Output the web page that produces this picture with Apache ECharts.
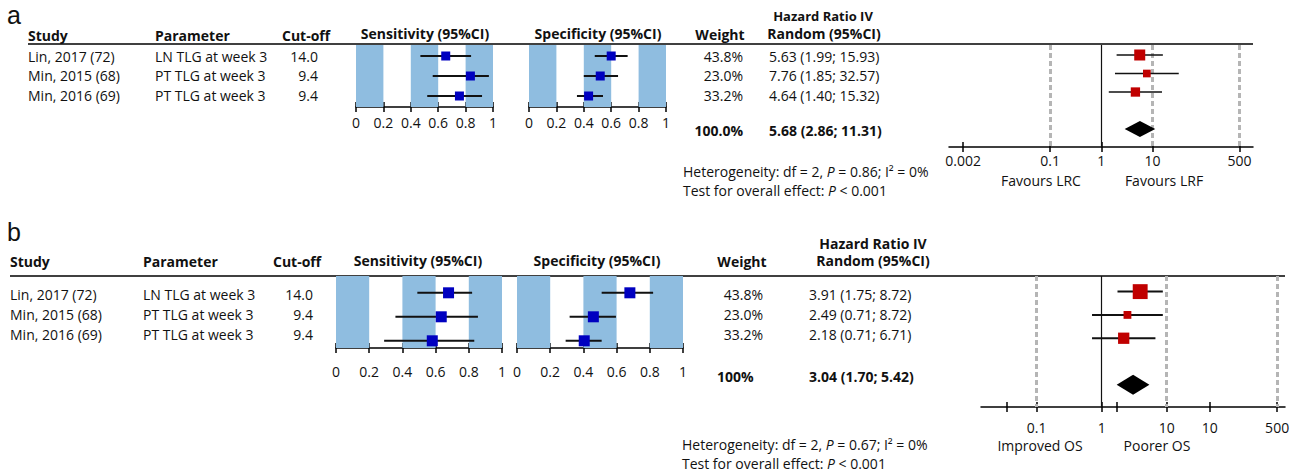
<!DOCTYPE html>
<html><head><meta charset="utf-8">
<script src="https://cdn.jsdelivr.net/npm/echarts@6/dist/echarts.min.js"></script>
<style>html,body{margin:0;padding:0;background:#fff}#c{width:1295px;height:473px}</style>
</head><body><div id="c"></div>
<script>
// ---------------- data ----------------
const studies = ['Lin, 2017 (72)', 'Min, 2015 (68)', 'Min, 2016 (69)'];
const parameters = ['LN TLG at week 3', 'PT TLG at week 3', 'PT TLG at week 3'];
const cutoffs = ['14.0', '9.4', '9.4'];
const weights = [43.8, 23.0, 33.2];
// panel a: [estimate, lower, upper]
const sensA = [[0.655, 0.47, 0.84], [0.835, 0.56, 0.97], [0.755, 0.52, 0.92]];
const specA = [[0.60, 0.48, 0.72], [0.52, 0.40, 0.65], [0.435, 0.35, 0.54]];
const hrA = [[5.63, 1.99, 15.93], [7.76, 1.85, 32.57], [4.64, 1.40, 15.32]];
const hrPooledA = [5.68, 2.86, 11.31];
// panel b
const sensB = [[0.678, 0.49, 0.82], [0.634, 0.358, 0.855], [0.58, 0.29, 0.833]];
const specB = [[0.68, 0.51, 0.82], [0.46, 0.317, 0.596], [0.405, 0.293, 0.51]];
const hrB = [[3.91, 1.75, 8.72], [2.49, 0.71, 8.72], [2.18, 0.71, 6.71]];
const hrPooledB = [3.04, 1.70, 5.42];
const weightTextA = ['43.8%', '23.0%', '33.2%'];
const weightTextB = ['43.8%', '23.0%', '33.2%'];
const totalWeightA = '100.0%';
const totalWeightB = '100%';
const hrTextA = ['5.63 (1.99; 15.93)', '7.76 (1.85; 32.57)', '4.64 (1.40; 15.32)'];
const hrTextB = ['3.91 (1.75; 8.72)', '2.49 (0.71; 8.72)', '2.18 (0.71; 6.71)'];
const pooledTextA = '5.68 (2.86; 11.31)';
const pooledTextB = '3.04 (1.70; 5.42)';
const hetPA = '0.86', hetPB = '0.67';
// axes
const bandRanges = [[0, 0.2], [0.4, 0.6], [0.8, 1]];
const hrTicksA = [0.002, 0.1, 1, 10, 500];
const hrTickLabelsA = ['0.002', '0.1', '1', '10', '500'];
const hrRefLinesA = [0.002, 0.1, 10, 500];
const hrTicksB = [0.035, 0.1, 1, 1.7, 10, 46, 500];
const hrLabelValuesB = [0.1, 1, 10, 46, 500];
const hrTickLabelsB = ['0.1', '1', '10', '10', '500'];
const hrRefLinesB = [0.1, 10, 500];
const favoursA = ['Favours LRC', 'Favours LRF'];
const favoursB = ['Improved OS', 'Poorer OS'];

// ---------------- styles ----------------
const FONT = 'Open Sans';
const FS = 14;
const BAND = '#8fbde0';
const BLUE = '#0000c0';
const RED = '#c00000';

function labelLookup(vals, labels) {
  return function (v) {
    for (let i = 0; i < vals.length; i++) {
      if (Math.abs(v - vals[i]) / vals[i] < 1e-6) return labels[i];
    }
    return '';
  };
}

function propAxes(grid, labelMargin) {
  return [
    { gridIndex: grid, type: 'value', min: 0, max: 1, interval: 0.2, position: 'bottom',
      axisLine: { lineStyle: { color: '#000', width: 1.5 } },
      axisTick: { length: 5, lineStyle: { color: '#000', width: 1.5 } },
      axisLabel: { margin: labelMargin, color: '#111', fontFamily: FONT, fontSize: FS,
        showMinLabel: true, showMaxLabel: true, formatter: v => String(+v.toFixed(1)) },
      splitLine: { show: false } },
    { gridIndex: grid, type: 'value', min: 0, max: 1, interval: 0.2, position: 'bottom',
      axisLine: { show: false },
      axisTick: { inside: true, length: 5, lineStyle: { color: '#000', width: 1.5 } },
      axisLabel: { show: false }, splitLine: { show: false } }
  ];
}
function hrAxes(grid, min, max, ticks, labelVals, labels, labelMargin) {
  return [
    { gridIndex: grid, type: 'log', logBase: 10, min: min, max: max, position: 'bottom',
      axisLine: { lineStyle: { color: '#000', width: 1.5 } },
      axisTick: { length: 5, customValues: ticks, lineStyle: { color: '#000', width: 1.5 } },
      axisLabel: { margin: labelMargin, color: '#111', fontFamily: FONT, fontSize: FS,
        customValues: labelVals, formatter: labelLookup(labelVals, labels) },
      splitLine: { show: false }, minorTick: { show: false } },
    { gridIndex: grid, type: 'log', logBase: 10, min: min, max: max, position: 'bottom',
      axisLine: { show: false },
      axisTick: { inside: true, length: 5, customValues: ticks, lineStyle: { color: '#000', width: 1.5 } },
      axisLabel: { show: false }, splitLine: { show: false } }
  ];
}

function ciRender(color, lineWidth, sizeFn) {
  return function (params, api) {
    const row = api.value(3);
    const p = api.coord([api.value(0), row]);
    const l = api.coord([api.value(1), row]);
    const h = api.coord([api.value(2), row]);
    const s = sizeFn(api.value(4));
    return { type: 'group', children: [
      { type: 'line', shape: { x1: l[0], y1: l[1], x2: h[0], y2: h[1] },
        style: { stroke: '#111', lineWidth: lineWidth } },
      { type: 'rect', shape: { x: p[0] - s / 2, y: p[1] - s / 2, width: s, height: s },
        style: { fill: color } }
    ] };
  };
}
function diamondRender(hgt) {
  return function (params, api) {
    const row = api.value(3);
    const p = api.coord([api.value(0), row]);
    const l = api.coord([api.value(1), row]);
    const h = api.coord([api.value(2), row]);
    return { type: 'polygon', shape: { points: [[l[0], l[1]], [p[0], p[1] - hgt / 2], [h[0], h[1]], [p[0], p[1] + hgt / 2]] },
      style: { fill: '#000' } };
  };
}
function rowsData(arr) { return arr.map((d, i) => [d[0], d[1], d[2], i + 1, weights[i]]); }

function forestSeries(xIdx, yIdx, data, color, lw, sizeFn) {
  return { type: 'custom', xAxisIndex: xIdx, yAxisIndex: yIdx, z: 5,
    encode: { x: [0, 1, 2], y: 3 }, data: data, renderItem: ciRender(color, lw, sizeFn), silent: true };
}
function bandSeries(xIdx, yIdx) {
  return { type: 'custom', xAxisIndex: xIdx, yAxisIndex: yIdx, z: 1, silent: true,
    data: [], renderItem: () => null,
    markArea: { silent: true, itemStyle: { color: BAND }, data: bandRanges.map(r => [{ xAxis: r[0] }, { xAxis: r[1] }]) } };
}
function refLineSeries(xIdx, yIdx, dashedVals) {
  return { type: 'custom', xAxisIndex: xIdx, yAxisIndex: yIdx, z: 2, silent: true,
    data: [], renderItem: () => null,
    markLine: { silent: true, symbol: 'none', label: { show: false }, animation: false,
      data: dashedVals.map(v => ({ xAxis: v, lineStyle: { color: '#b5b5b5', width: 3, type: [5, 3] } }))
        .concat([{ xAxis: 1, lineStyle: { color: '#111', width: 1.2, type: 'solid' } }]) } };
}

// ---------------- layout (pixels) ----------------
const rowsTextA = [56, 75.5, 95], sumYA = 130;
const rowsTextB = [294.5, 314.5, 334.5], sumYB = 376;

function T(x, y, text, o) {
  o = o || {};
  return { type: 'text', x: x, y: y, silent: true, z: 10,
    style: { text: text, fill: o.color || '#111', font: (o.bold ? 'bold ' : '') + (o.size || FS) + 'px "' + (o.family || FONT) + '"',
      textAlign: o.align || 'left', textVerticalAlign: 'middle', rich: o.rich } };
}
const richI = { i: { fontStyle: 'italic', fontFamily: FONT, fontSize: FS, fill: '#111' } };
function hetText(p) { return 'Heterogeneity: df = 2, {i|P} = ' + p + '; I² = 0%'; }

const graphics = [];
// panel a
graphics.push(T(7, 15, 'a', { size: 25, family: 'Liberation Sans' }));
graphics.push(T(28, 35, 'Study', { bold: true }), T(155, 35, 'Parameter', { bold: true }), T(282, 35, 'Cut-off', { bold: true }));
graphics.push(T(425, 33, 'Sensitivity (95%CI)', { bold: true, align: 'center' }), T(598, 33, 'Specificity (95%CI)', { bold: true, align: 'center' }));
graphics.push(T(720, 34, 'Weight', { bold: true, align: 'center' }), T(823, 16, 'Hazard Ratio IV', { bold: true, align: 'center', size: 13 }),
  T(824, 33, 'Random (95%CI)', { bold: true, align: 'center' }));
graphics.push({ type: 'line', silent: true, shape: { x1: 28, y1: 44, x2: 1253, y2: 44 }, style: { stroke: '#000', lineWidth: 1.5 } });
studies.forEach((s, i) => {
  graphics.push(T(28, rowsTextA[i], s), T(155, rowsTextA[i], parameters[i]), T(318, rowsTextA[i], cutoffs[i], { align: 'right' }),
    T(743, rowsTextA[i], weightTextA[i], { align: 'right' }), T(769, rowsTextA[i], hrTextA[i]));
});
graphics.push(T(743, sumYA, totalWeightA, { bold: true, align: 'right' }), T(769, sumYA, pooledTextA, { bold: true }));
graphics.push(T(683, 171, hetText(hetPA), { rich: richI }), T(683, 190, 'Test for overall effect: {i|P} < 0.001', { rich: richI }));
graphics.push(T(1041, 180, favoursA[0], { align: 'center' }), T(1164, 180, favoursA[1], { align: 'center' }));
// panel b
graphics.push(T(7, 232, 'b', { size: 25, family: 'Liberation Sans' }));
graphics.push(T(10, 261, 'Study', { bold: true }), T(143, 261, 'Parameter', { bold: true }), T(273, 261, 'Cut-off', { bold: true }));
graphics.push(T(418, 260, 'Sensitivity (95%CI)', { bold: true, align: 'center' }), T(597, 260, 'Specificity (95%CI)', { bold: true, align: 'center' }));
graphics.push(T(742, 261, 'Weight', { bold: true, align: 'center' }), T(873, 243, 'Hazard Ratio IV', { bold: true, align: 'center' }),
  T(873, 260, 'Random (95%CI)', { bold: true, align: 'center' }));
graphics.push({ type: 'line', silent: true, shape: { x1: 10, y1: 276, x2: 1285, y2: 276 }, style: { stroke: '#000', lineWidth: 1.5 } });
studies.forEach((s, i) => {
  graphics.push(T(10, rowsTextB[i], s), T(143, rowsTextB[i], parameters[i]), T(313, rowsTextB[i], cutoffs[i], { align: 'right' }),
    T(763, rowsTextB[i], weightTextB[i], { align: 'right' }), T(809, rowsTextB[i], hrTextB[i]));
});
graphics.push(T(717, sumYB, totalWeightB, { bold: true }), T(809, sumYB, pooledTextB, { bold: true }));
graphics.push(T(682, 444, hetText(hetPB), { rich: richI }), T(682, 463, 'Test for overall effect: {i|P} < 0.001', { rich: richI }));
graphics.push(T(1040, 445, favoursB[0], { align: 'center' }), T(1157, 445, favoursB[1], { align: 'center' }));

const grids = [
  { left: 356, top: 45, width: 137, height: 62 },
  { left: 529, top: 45, width: 137, height: 62 },
  { left: 949, top: 45, width: 304, height: 102 },
  { left: 336, top: 276, width: 166, height: 72 },
  { left: 517, top: 276, width: 166, height: 72 },
  { left: 981, top: 276, width: 304, height: 131 }
];
const yRanges = [[0.45, 3.55], [0.45, 3.55], [0.46, 5.97], [0.30, 3.30], [0.30, 3.30], [0.33, 5.95]];
const xAxes = [].concat(
  propAxes(0, 8), propAxes(1, 8),
  hrAxes(2, 0.00106, 918, hrTicksA, hrTicksA, hrTickLabelsA, 6),
  propAxes(3, 16), propAxes(4, 16),
  hrAxes(5, 0.0139, 661, hrTicksB, hrLabelValuesB, hrTickLabelsB, 13)
);
const yAxes = yRanges.map((r, i) => ({ gridIndex: i, type: 'value', inverse: true, min: r[0], max: r[1], show: false }));

const sizeA = w => 4 + 0.16 * w;
const sizeB = w => 0.34 * w;
const series = [
  bandSeries(0, 0), forestSeries(0, 0, rowsData(sensA), BLUE, 2, () => 9),
  bandSeries(2, 1), forestSeries(2, 1, rowsData(specA), BLUE, 2, () => 9),
  refLineSeries(4, 2, hrRefLinesA), forestSeries(4, 2, rowsData(hrA), RED, 1.5, sizeA),
  { type: 'custom', xAxisIndex: 4, yAxisIndex: 2, z: 5, silent: true, encode: { x: [0, 1, 2], y: 3 },
    data: [[hrPooledA[0], hrPooledA[1], hrPooledA[2], 5]], renderItem: diamondRender(16) },
  bandSeries(6, 3), forestSeries(6, 3, rowsData(sensB), BLUE, 2, () => 11),
  bandSeries(8, 4), forestSeries(8, 4, rowsData(specB), BLUE, 2, () => 11),
  refLineSeries(10, 5, hrRefLinesB), forestSeries(10, 5, rowsData(hrB), RED, 2, sizeB),
  { type: 'custom', xAxisIndex: 10, yAxisIndex: 5, z: 5, silent: true, encode: { x: [0, 1, 2], y: 3 },
    data: [[hrPooledB[0], hrPooledB[1], hrPooledB[2], 5]], renderItem: diamondRender(20) }
];

const chart = echarts.init(document.getElementById('c'), null, { renderer: 'svg' });
chart.setOption({
  animation: false,
  backgroundColor: '#fff',
  textStyle: { fontFamily: FONT },
  grid: grids, xAxis: xAxes, yAxis: yAxes, series: series, graphic: graphics
});
</script></body></html>
